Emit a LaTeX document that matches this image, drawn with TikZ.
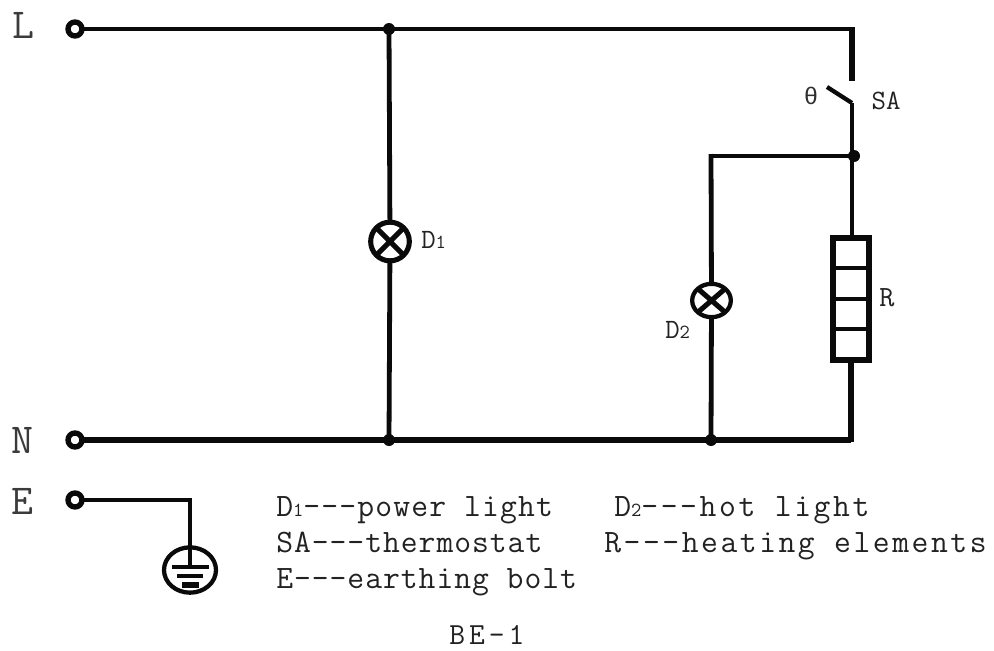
\documentclass[tikz,border=0pt]{standalone}
\usepackage{fontspec}
\newfontfamily\symfont{Liberation Mono}
\newfontfamily\lmA[LetterSpace=3.6]{Latin Modern Mono}
\newfontfamily\lmE[LetterSpace=3]{Latin Modern Mono}
\newfontfamily\lmB[LetterSpace=8]{Latin Modern Mono}
\newfontfamily\lmC[LetterSpace=7.8]{Latin Modern Mono}
\newfontfamily\lmD[LetterSpace=13]{Latin Modern Mono}
\usetikzlibrary{calc,shapes.geometric}
\definecolor{ink}{HTML}{0A0A0A}
\newcommand{\subdig}[1]{{\ttfamily\fontsize{15}{15}\selectfont #1}}
\tikzset{
  x=0.75pt,y=-0.75pt,
  wire/.style={draw=ink,line width=3.6pt,line cap=butt},
  topwire/.style={draw=ink,line width=3.2pt},
  nwire/.style={draw=ink,line width=4.1pt},
  ewire/.style={draw=ink,line width=3.3pt},
  terminal/.style={circle,draw=ink,fill=white,line width=4pt,minimum size=10.5pt,inner sep=0pt,outer sep=0pt},
  junction/.style={circle,fill=ink,minimum size=9pt,inner sep=0pt,outer sep=0pt},
  lampbase/.style={draw=ink,fill=white,inner sep=0pt,outer sep=0pt,
    path picture={\draw[ink,line width=3.8pt] (path picture bounding box.south west)--(path picture bounding box.north east)
      (path picture bounding box.north west)--(path picture bounding box.south east);}},
  big/.style={font=\ttfamily\fontsize{32}{32}\selectfont,inner sep=0pt,text=ink!80},
  lbl/.style={inner sep=0pt,anchor=base west,text=ink!90},
  rbox/.style={draw=ink,fill=white,line width=4.2pt,minimum width=27pt,minimum height=91.5pt,inner sep=0pt,outer sep=0pt},
  gndbar/.style={draw=ink},
}
\begin{document}
\begin{tikzpicture}
\useasboundingbox (0,0) rectangle (994,650);
\fill[white] (0,0) rectangle (994,650);
% free points and junctions
\coordinate (ctop) at (852,29);
\coordinate (swup) at (852,81);
\coordinate (swpiv) at (852,103);
\coordinate (swfree) at (827,87);
\coordinate (cbl) at (711,156);
\coordinate (cbr) at (851,440);
\coordinate (ecorner) at (190,500);
\node[junction] (j1) at (389,29) {};
\node[junction] (j2) at (854,156) {};
\node[junction] (j3) at (389,440) {};
\node[junction] (j4) at (711,440) {};
% terminals
\node[terminal] (tl) at (75,29) {};
\node[terminal] (tn) at (75,440) {};
\node[terminal] (te) at (75,500) {};
% lamps
\node[lampbase,ellipse,line width=3.8pt,minimum width=29pt,minimum height=29pt] (d1) at (390,241.5) {};
\node[lampbase,ellipse,line width=3.2pt,minimum width=29pt,minimum height=25pt] (d2) at (711.5,300.5) {};
% element
\node[rbox] (rnode) at (851,299) {};
\draw[ink,line width=3.6pt] (rnode.west |- 0,268) -- (rnode.east |- 0,268);
\draw[ink,line width=2.6pt] (rnode.west |- 0,299) -- (rnode.east |- 0,299);
\draw[ink,line width=2.6pt] (rnode.west |- 0,329) -- (rnode.east |- 0,329);
% ground
\node[ellipse,draw=ink,line width=3.2pt,minimum width=39pt,minimum height=34pt,inner sep=0pt,outer sep=0pt] (gnd) at (190,570) {};
\draw[gndbar,line width=3.6pt] (172,567) -- (209,567);
\draw[gndbar,line width=2.6pt] (177,576) -- (203,576);
\draw[gndbar,line width=4.4pt] (182,585) -- (199,585);
% wires
\draw[topwire] (tl) -- (j1.center) -- (ctop);
\draw[wire,line width=3.8pt] (ctop) ++(0,-2) -- (swup);
\draw[wire,line width=3.2pt] (swfree) -- (swpiv);
\draw[wire] (swpiv) -- (852,158);
\draw[wire] (852,158) -- (rnode.north -| 852,0);
\draw[wire] (cbl) -- (j2.center);
\draw[wire] ($(cbl)+(0,-2)$) -- (d2);
\draw[wire] (d2) -- (j4.center);
\draw[wire] (j1.center) -- (d1);
\draw[wire] (d1) -- (j3.center);
\draw[nwire] (tn) -- (j3.center) -- (j4.center) -- (cbr);
\draw[wire,line width=4.1pt] ($(cbr)+(0,2)$) -- (rnode.south);
\draw[ewire] (te) -- (ecorner);
\draw[ewire] ($(ecorner)+(0,-2)$) -- (190,566);
% labels
\node[big] (ll) at (23,25) {L};
\node[big] (ln) at (22,440) {N};
\node[big] (le) at (22,501) {E};
\node[font=\symfont\fontsize{18}{18}\selectfont,inner sep=0pt,text=ink!85] (lth) at (811,96) {θ};
\node[inner sep=0pt,text=ink!90,font=\ttfamily\fontsize{21}{22}\selectfont] (lsa) at (886,101) {SA};
\node[inner sep=0pt,text=ink!90,font=\ttfamily\fontsize{22}{22}\selectfont] (lr) at (887,298) {R};
\node[lbl,font=\ttfamily\fontsize{21}{22}\selectfont] (ld1) at (421,248) {D\subdig{1}};
\node[lbl,font=\ttfamily\fontsize{21}{22}\selectfont] (ld2) at (665,338) {D\subdig{2}};
\node[lbl,font=\lmA\fontsize{24.5}{26}\selectfont] (t1) at (276,516) {D\subdig{1}{---power light}};
\node[lbl,font=\lmE\fontsize{24.5}{26}\selectfont] (t2) at (276,552) {SA---thermostat};
\node[lbl,font=\lmE\fontsize{24.5}{26}\selectfont] (t3) at (276,588) {E---earthing bolt};
\node[lbl,font=\lmB\fontsize{24.5}{26}\selectfont] (t4) at (614,516) {D\subdig{2}{---hot light}};
\node[lbl,font=\lmC\fontsize{24.5}{26}\selectfont] (t5) at (604,552) {R---heating elements};
\node[lbl,font=\lmD\fontsize{23}{24}\selectfont] (t6) at (449,644) {BE-1};
\end{tikzpicture}
\end{document}
